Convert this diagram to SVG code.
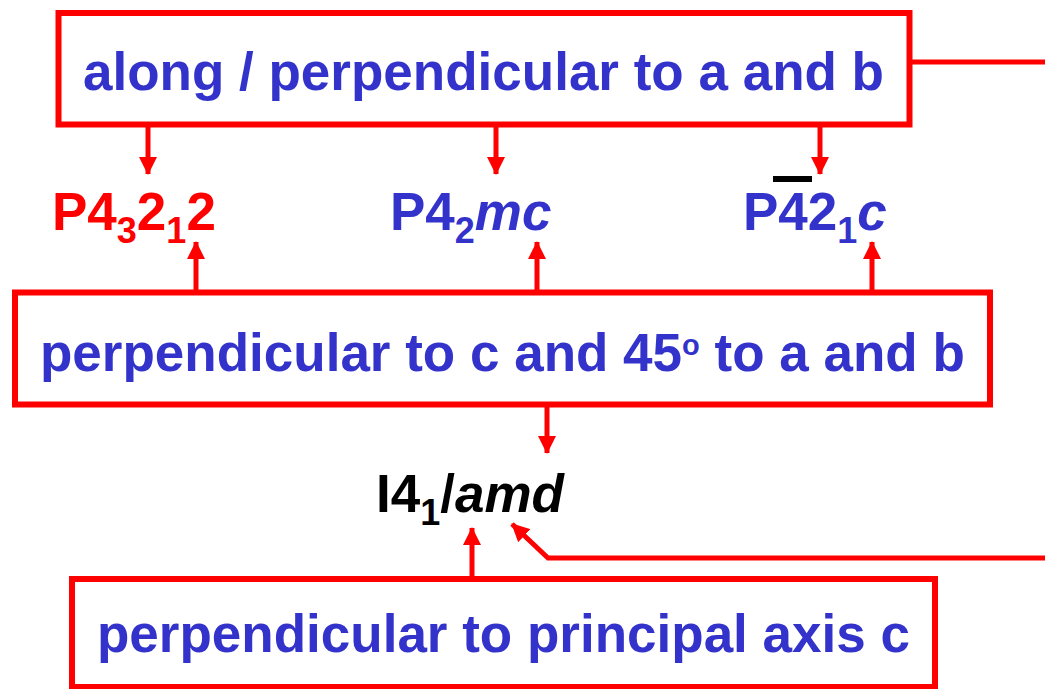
<svg xmlns="http://www.w3.org/2000/svg" width="1045" height="689" viewBox="0 0 1045 689">
  <style>
    .box { fill: #FFFFFF; stroke: #FF0000; stroke-width: 6; }
    .t { font-family: "Liberation Sans", Arial, sans-serif; font-weight: bold; font-size: 53px; }
    .blue { fill: #3333CC; }
    .red { fill: #FF0000; }
    .black { fill: #000000; }
    .sub { font-size: 36px; }
    .sup { font-size: 29px; }
    .it { font-style: italic; }
    .conn { fill: none; stroke: #FF0000; stroke-width: 5; }
  </style>
  <defs>
    <marker id="ah" markerUnits="userSpaceOnUse" markerWidth="18" markerHeight="18" refX="17" refY="9" orient="auto">
      <path d="M0,0 L18,9 L0,18 z" fill="#FF0000"/>
    </marker>
  </defs>
  <rect width="1045" height="689" fill="#FFFFFF"/>

  <g id="connectors">
    <line class="conn" x1="148" y1="127" x2="148" y2="174" marker-end="url(#ah)"/>
    <line class="conn" x1="496" y1="127" x2="496" y2="174" marker-end="url(#ah)"/>
    <line class="conn" x1="820" y1="127" x2="820" y2="174" marker-end="url(#ah)"/>
    <line class="conn" x1="196" y1="290" x2="196" y2="242" marker-end="url(#ah)"/>
    <line class="conn" x1="537" y1="290" x2="537" y2="242" marker-end="url(#ah)"/>
    <line class="conn" x1="872" y1="290" x2="872" y2="242" marker-end="url(#ah)"/>
    <line class="conn" x1="547" y1="407" x2="547" y2="453" marker-end="url(#ah)"/>
    <line class="conn" x1="472" y1="577" x2="472" y2="528" marker-end="url(#ah)"/>
    <line class="conn" x1="912" y1="62" x2="1045" y2="62"/>
    <polyline class="conn" points="1045,558 548,558 512,524" marker-end="url(#ah)"/>
  </g>

  <g id="box-along">
    <rect class="box" x="58.5" y="13" width="851" height="111.5"/>
    <text class="t blue" x="83" y="90">along / perpendicular to a and b</text>
  </g>

  <g id="box-perp45">
    <rect class="box" x="15" y="292.5" width="975" height="112"/>
    <text class="t blue" x="40" y="371">perpendicular to c and 45<tspan class="sup" dy="-16">o</tspan><tspan dy="16"> to a and b</tspan></text>
  </g>

  <g id="box-principal">
    <rect class="box" x="72" y="579" width="863" height="108"/>
    <text class="t blue" x="97" y="652">perpendicular to principal axis c</text>
  </g>

  <g id="label-P43212">
    <text class="t red" x="52" y="230">P4<tspan class="sub" dy="13">3</tspan><tspan dy="-13">2</tspan><tspan class="sub" dy="13">1</tspan><tspan dy="-13">2</tspan></text>
  </g>

  <g id="label-P42mc">
    <text class="t blue" x="390" y="230">P4<tspan class="sub" dy="13">2</tspan><tspan class="it" dy="-13">mc</tspan></text>
  </g>

  <g id="label-P-421c">
    <rect x="773" y="176" width="39" height="6" fill="#000000"/>
    <text class="t blue" x="743" y="230">P42<tspan class="sub" dy="13">1</tspan><tspan class="it" dy="-13">c</tspan></text>
  </g>

  <g id="label-I41amd">
    <text class="t black" x="376" y="512">I4<tspan class="sub" fill="#000000" dy="13">1</tspan><tspan dy="-13">/</tspan><tspan class="it">amd</tspan></text>
  </g>
</svg>
